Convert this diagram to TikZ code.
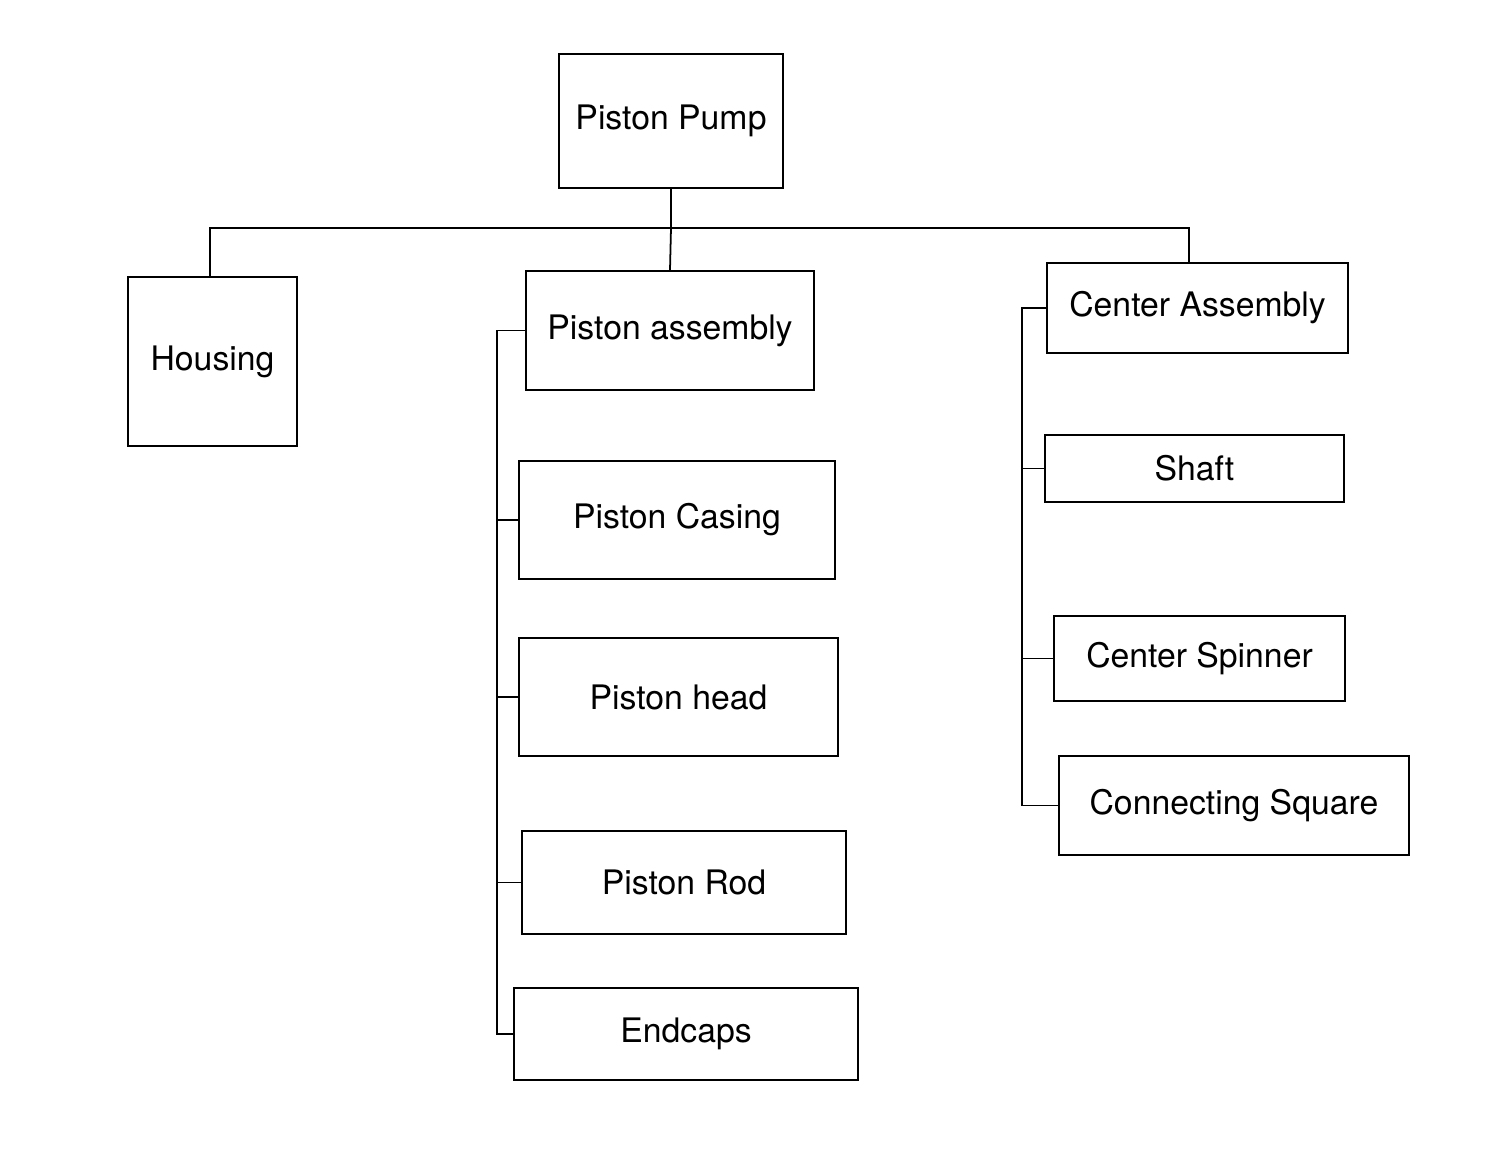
\documentclass[tikz,border=0pt]{standalone}
\usepackage{fontspec}
\setmainfont{TeX Gyre Heros}
\usetikzlibrary{positioning, calc}
\tikzset{
	part/.style={draw, line width=0.6pt, inner sep=0pt, font=\fontsize{9.6}{11}\selectfont},
	link/.style={line width=0.5pt},
}
\begin{document}
\begin{tikzpicture}[x=0.01cm, y=-0.01cm]
			\useasboundingbox (0,0) rectangle (1500,1161);
			\node[part, minimum width=2.24cm, minimum height=1.34cm] (PUMP) at (671,121) {Piston Pump};
			\node[part, minimum width=1.69cm, minimum height=1.69cm] (HOUSING) at (212.5,361.5) {Housing};
			\node[part, minimum width=2.88cm, minimum height=1.19cm] (PASSY) at (670,330.5) {Piston assembly};
			\node[part, minimum width=3.01cm, minimum height=0.90cm] (CASSY) at (1197.5,308) {Center Assembly};
			\node[part, minimum width=2.99cm, minimum height=0.67cm] (SHAFT) at (1194.5,468.5) {Shaft};
			\node[part, minimum width=3.16cm, minimum height=1.18cm] (CASING) at (677,520) {Piston Casing};
			\node[part, minimum width=2.91cm, minimum height=0.85cm] (SPINNER) at (1199.5,658.5) {Center Spinner};
			\node[part, minimum width=3.19cm, minimum height=1.18cm] (HEAD) at (678.5,697) {Piston head};
			\node[part, minimum width=3.50cm, minimum height=0.99cm] (SQUARE) at (1234,805.5) {Connecting Square};
			\node[part, minimum width=3.24cm, minimum height=1.03cm] (ROD) at (684,882.5) {Piston Rod};
			\node[part, minimum width=3.44cm, minimum height=0.92cm] (ENDCAPS) at (686,1034) {Endcaps};
			
			\coordinate (hub) at (671,228);
			\coordinate (spineL) at (497,0);
			\coordinate (spineR) at (1022,0);
			
			\draw[link] (PUMP) -- (hub);
			\draw[link] (HOUSING.north -| 210,0) |- (hub) -| (CASSY.north -| 1189,0);
			\draw[link] (hub) -- (PASSY.north);
			
			\draw[link] (PASSY.west) -| (spineL |- ENDCAPS.west) -- (ENDCAPS.west);
			\foreach \n in {CASING, HEAD, ROD}
				\draw[link] (spineL |- \n.west) -- (\n.west);
			
			\draw[link] (CASSY.west) -| (spineR |- SQUARE.west) -- (SQUARE.west);
			\foreach \n in {SHAFT, SPINNER}
				\draw[link] (spineR |- \n.west) -- (\n.west);
\end{tikzpicture}
\end{document}
